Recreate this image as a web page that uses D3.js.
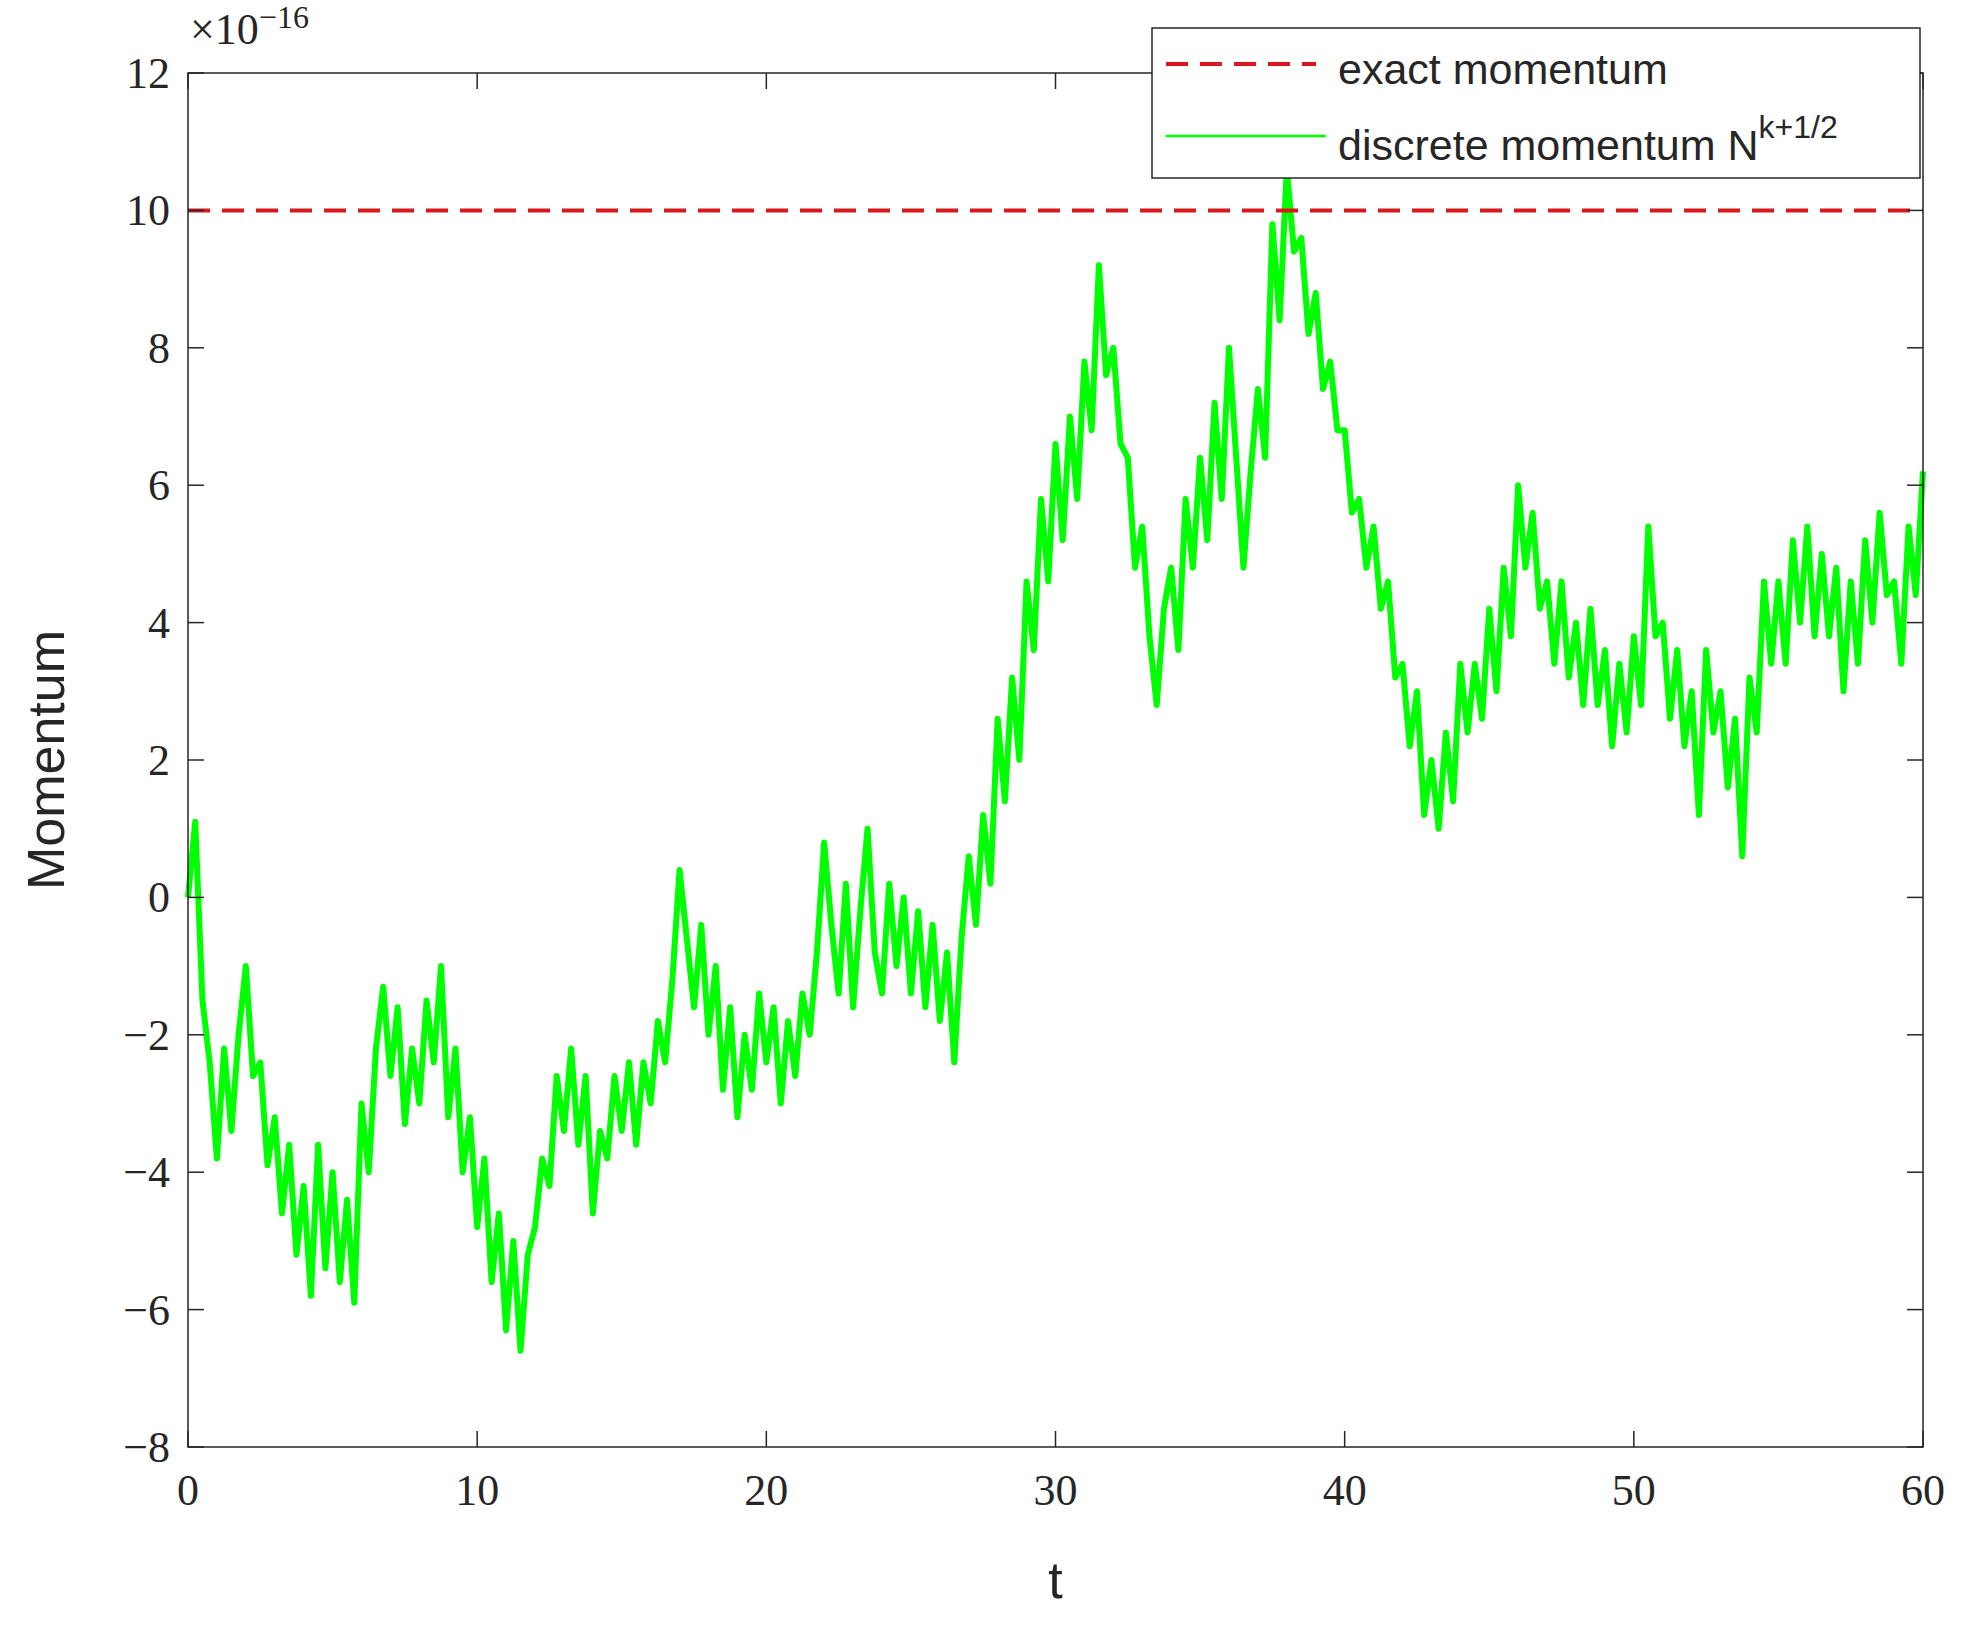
<!DOCTYPE html>
<html><head><meta charset="utf-8">
<script src="https://cdn.jsdelivr.net/npm/d3@7"></script>
<style>body{margin:0;background:#fff}</style></head>
<body><svg id="c" width="1965" height="1633"></svg>
<script>
const xTicks=[0,10,20,30,40,50,60];
const yTicks=[-8,-6,-4,-2,0,2,4,6,8,10,12];
const exactMomentum=10;
const tStep=0.25;
const momentum=[0,1.1,-1.5,-2.4,-3.8,-2.2,-3.4,-2.0,-1.0,-2.6,-2.4,-3.9,-3.2,-4.6,-3.6,-5.2,-4.2,-5.8,-3.6,-5.4,-4.0,-5.6,-4.4,-5.9,-3.0,-4.0,-2.2,-1.3,-2.6,-1.6,-3.3,-2.2,-3.0,-1.5,-2.4,-1.0,-3.2,-2.2,-4.0,-3.2,-4.8,-3.8,-5.6,-4.6,-6.3,-5.0,-6.6,-5.2,-4.8,-3.8,-4.2,-2.6,-3.4,-2.2,-3.6,-2.6,-4.6,-3.4,-3.8,-2.6,-3.4,-2.4,-3.6,-2.4,-3.0,-1.8,-2.4,-1.2,0.4,-0.6,-1.6,-0.4,-2.0,-1.0,-2.8,-1.6,-3.2,-2.0,-2.8,-1.4,-2.4,-1.6,-3.0,-1.8,-2.6,-1.4,-2.0,-0.8,0.8,-0.4,-1.4,0.2,-1.6,-0.2,1.0,-0.8,-1.4,0.2,-1.0,0.0,-1.4,-0.2,-1.6,-0.4,-1.8,-0.8,-2.4,-0.6,0.6,-0.4,1.2,0.2,2.6,1.4,3.2,2.0,4.6,3.6,5.8,4.6,6.6,5.2,7.0,5.8,7.8,6.8,9.2,7.6,8.0,6.6,6.4,4.8,5.4,3.8,2.8,4.2,4.8,3.6,5.8,4.8,6.4,5.2,7.2,5.8,8.0,6.4,4.8,6.2,7.4,6.4,9.8,8.4,10.6,9.4,9.6,8.2,8.8,7.4,7.8,6.8,6.8,5.6,5.8,4.8,5.4,4.2,4.6,3.2,3.4,2.2,3.0,1.2,2.0,1.0,2.4,1.4,3.4,2.4,3.4,2.6,4.2,3.0,4.8,3.8,6.0,4.8,5.6,4.2,4.6,3.4,4.6,3.2,4.0,2.8,4.2,2.8,3.6,2.2,3.4,2.4,3.8,2.8,5.4,3.8,4.0,2.6,3.6,2.2,3.0,1.2,3.6,2.4,3.0,1.6,2.6,0.6,3.2,2.4,4.6,3.4,4.6,3.4,5.2,4.0,5.4,3.8,5.0,3.8,4.8,3.0,4.6,3.4,5.2,4.0,5.6,4.4,4.6,3.4,5.4,4.4,6.2];

const svg=d3.select('#c');
const L=188,R=1923,T=73,B=1447;
const x=d3.scaleLinear().domain([0,60]).range([L,R]);
const y=d3.scaleLinear().domain([-8,12]).range([B,T]);
const serif='"Liberation Serif","DejaVu Serif",serif';
const sans='"Liberation Sans",Arial,sans-serif';

const line=d3.line().x((d,i)=>x(i*tStep)).y(d=>y(d));
svg.append('path').datum(momentum).attr('d',line).attr('fill','none').attr('stroke','#00ff00').attr('stroke-width',6).attr('stroke-linejoin','round');
svg.append('line').attr('x1',x(0)).attr('x2',x(60)).attr('y1',y(exactMomentum)).attr('y2',y(exactMomentum))
  .attr('stroke','#d7191c').attr('stroke-width',4).attr('stroke-dasharray','22,12');

const ax=svg.append('g').attr('font-family',serif).attr('font-size',44).attr('fill','#262626');
xTicks.forEach(v=>{
  ax.append('line').attr('x1',x(v)).attr('x2',x(v)).attr('y1',B).attr('y2',B-16).attr('stroke','#262626').attr('stroke-width',1.5);
  ax.append('line').attr('x1',x(v)).attr('x2',x(v)).attr('y1',T).attr('y2',T+16).attr('stroke','#262626').attr('stroke-width',1.5);
  ax.append('text').attr('x',x(v)).attr('y',B+58).attr('text-anchor','middle').text(v);
});
yTicks.forEach(v=>{
  ax.append('line').attr('x1',L).attr('x2',L+16).attr('y1',y(v)).attr('y2',y(v)).attr('stroke','#262626').attr('stroke-width',1.5);
  ax.append('line').attr('x1',R).attr('x2',R-16).attr('y1',y(v)).attr('y2',y(v)).attr('stroke','#262626').attr('stroke-width',1.5);
  ax.append('text').attr('x',L-18).attr('y',y(v)+15).attr('text-anchor','end').text(v<0?'\u2212'+(-v):v);
});
svg.append('rect').attr('x',L).attr('y',T).attr('width',R-L).attr('height',B-T).attr('fill','none').attr('stroke','#262626').attr('stroke-width',1.5);

const ex=svg.append('text').attr('x',190).attr('y',44).attr('font-family',serif).attr('font-size',44).attr('fill','#262626');
ex.append('tspan').text('\u00d710');
ex.append('tspan').attr('dy',-16).attr('font-size',32).text('\u221216');

svg.append('text').attr('transform',`translate(64,${(T+B)/2}) rotate(-90)`).attr('text-anchor','middle')
  .attr('font-family',sans).attr('font-size',52).attr('fill','#262626').text('Momentum');
svg.append('text').attr('x',(L+R)/2).attr('y',1598).attr('text-anchor','middle')
  .attr('font-family',sans).attr('font-size',52).attr('fill','#262626').text('t');

const lg=svg.append('g');
lg.append('rect').attr('x',1152).attr('y',28).attr('width',768).attr('height',150).attr('fill','#fff').attr('stroke','#262626').attr('stroke-width',1.5);
lg.append('line').attr('x1',1166).attr('x2',1316).attr('y1',64).attr('y2',64).attr('stroke','#d7191c').attr('stroke-width',4).attr('stroke-dasharray','22,12');
lg.append('line').attr('x1',1166).attr('x2',1326).attr('y1',136).attr('y2',136).attr('stroke','#00ff00').attr('stroke-width',2.5);
lg.append('text').attr('x',1338).attr('y',84).attr('font-family',sans).attr('font-size',43).attr('fill','#262626').text('exact momentum');
const t2=lg.append('text').attr('x',1338).attr('y',160).attr('font-family',sans).attr('font-size',43).attr('fill','#262626');
t2.append('tspan').text('discrete momentum N');
t2.append('tspan').attr('dy',-22).attr('font-size',32).text('k+1/2');
</script></body></html>
